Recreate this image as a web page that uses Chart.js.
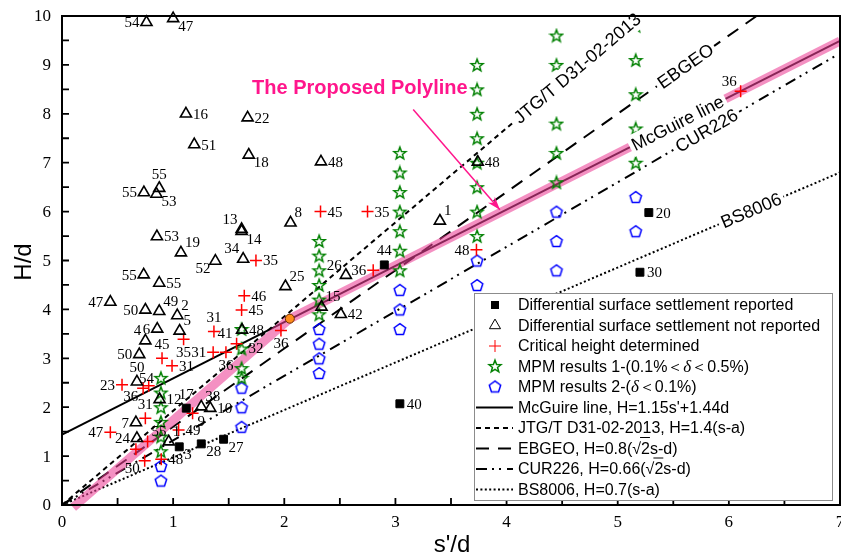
<!DOCTYPE html>
<html><head><meta charset="utf-8">
<script src="https://cdn.jsdelivr.net/npm/chart.js@4.4.1/dist/chart.umd.min.js"></script>
<style>html,body{margin:0;padding:0;background:#fff}canvas{display:block}</style>
</head><body>
<canvas id="c" width="841" height="555"></canvas>
<script>
// ---------- tick labels ----------
const xTicks=[0,1,2,3,4,5,6,7];
const yTicks=[0,1,2,3,4,5,6,7,8,9,10];

// ---------- Differential surface settlement reported (squares) ----------
const repX=[2.90,5.28,5.20,3.04,1.118,1.055,1.253,1.454];
const repY=[4.91,5.98,4.76,2.07,1.98,1.19,1.25,1.345];
const repL=['44','20','30','40','17','3','28','27'];
const repP=['t','r','r','r','t','br','br','br'];

// ---------- Differential surface settlement not reported (triangles) ----------
const triX=[0.76,1.00,1.115,1.67,1.19,1.68,2.33,0.875,0.737,0.85,0.854,1.616,1.616,2.056,1.07,1.38,1.63,2.01,0.875,0.735,0.435,0.75,0.875,1.037,0.857,1.058,0.75,0.695,0.674,0.878,1.253,1.334,0.665,0.674,0.96,2.554,3.40,3.741,2.509,2.335,1.62];
const triY=[9.87,9.95,8.00,7.92,7.37,7.16,7.02,6.48,6.39,6.36,5.49,5.64,5.60,5.77,5.16,4.99,5.03,4.47,4.54,4.71,4.15,3.99,3.96,3.875,3.60,3.56,3.36,3.08,2.52,2.16,2.01,1.98,1.685,1.365,1.296,4.70,5.81,7.015,3.90,4.05,3.58];
const triL=['54','47','16','22','51','18','48','55','55','53','53','13','14','8','19','52','34','25','55','55','47','50','49','2','6','5','4','50','50','12','38','10','7','24','1','26','1','48','42','15','48'];
const triP=['l','br','r','r','r','br','r','t','l','br','r','tl','br','tr','tr','bl','tl','tr','r','l','l','l','tr','tr','l','tr','tl','l','t','r','tr','r','l','l','tr','tl','tr','r','r','tr','r'];

// ---------- Critical height determined (crosses) ----------
const crX=[2.326,2.749,2.80,3.729,6.106,1.745,1.64,1.616,1.367,1.97,1.571,1.36,1.475,1.094,0.90,0.99,0.54,0.73,0.78,0.75,0.435,1.049,1.175,0.665,0.744,0.893,0.77];
const crY=[6.00,6.00,4.80,5.22,8.46,5.00,4.28,3.99,3.55,3.57,3.30,3.125,3.125,3.39,3.00,2.85,2.46,2.39,2.44,1.775,1.49,1.535,1.877,1.14,0.907,0.935,1.30];
const crL=['45','35','36','48','36','35','46','45','31','36','41','31','36','35','45','31','23','36','','31','47','49','9','','50','48','55'];
const crP=['r','r','l','l','tl','r','r','r','t','b','tl','l','b','b','t','r','l','bl','','t','l','r','br','','bl','r','tr'];

// ---------- MPM results 1 (stars) ----------
const stX=[0.89,0.89,0.89,0.89,0.89,0.89, 1.616,1.616,1.616,1.616, 2.314,2.314,2.314,2.314,2.314,2.314, 3.04,3.04,3.04,3.04,3.04,3.04,3.04, 3.735,3.735,3.735,3.735,3.735,3.735,3.735,3.735, 4.449,4.449,4.449,4.449,4.449, 5.162,5.162,5.162,5.162,5.162];
const stY=[2.6,2.3,2.0,1.7,1.4,1.1, 3.6,3.2,2.8,2.6, 5.4,5.1,4.8,4.5,4.2,3.9, 7.2,6.8,6.4,6.0,5.6,5.2,4.8, 9.0,8.5,8.0,7.5,7.0,6.5,6.0,5.5, 9.6,9.0,7.8,7.2,6.6, 9.8,9.1,8.4,7.7,7.0];
const stL=['54','','','','','', '','32','','', '','','','','','', '','','','','','','', '','','','','','','','', '','','','','', '','','','',''];
const stP=['l','','','','','', '','r','','', '','','','','','', '','','','','','','', '','','','','','','','', '','','','','', '','','','',''];

// ---------- MPM results 2 (pentagons) ----------
const peX=[0.89,0.89, 1.616,1.616,1.616, 2.314,2.314,2.314,2.314, 3.04,3.04,3.04, 3.735,3.735, 4.449,4.449,4.449, 5.162,5.162];
const peY=[0.8,0.5, 2.4,2.0,1.6, 3.6,3.3,3.0,2.7, 4.4,4.0,3.6, 5.0,4.5, 6.0,5.4,4.8, 6.3,5.6];

// ---------- polyline break point ----------
const brkX=[2.05], brkY=[3.81];

// ---------- design lines ----------
const mcgX=[0,7],     mcgY=[1.44,9.49];
const jtgX=[0,5.19],  jtgY=[0,10];
const ebgX=[0,6.25],  ebgY=[0,10];
const curX=[0,7],     curY=[0,9.24];
const bsX=[0,7],      bsY=[0,6.8];
const polyX=[0.1,2.05,7], polyY=[-0.05,3.81,9.49];

// line label annotations
const lineLabelText=['JTG/T D31-02-2013','EBGEO','McGuire line','CUR226','BS8006'];
const lineLabelAt=[4.636,5.61,5.54,5.80,6.20];

const legendText=['Differential surface settlement reported','Differential surface settlement not reported','Critical height determined','MPM results 1-(0.1%＜δ＜0.5%)','MPM results 2-(δ＜0.1%)','McGuire line, H=1.15s\'+1.44d','JTG/T D31-02-2013, H=1.4(s-a)','EBGEO, H=0.8(√2s-d)','CUR226, H=0.66(√2s-d)','BS8006, H=0.7(s-a)'];

const PINK='#ff168c';
const SANS='"Liberation Sans", Arial, sans-serif';
const SERIF='"Liberation Serif", "Times New Roman", serif';

function pts(xs,ys){return xs.map((x,i)=>({x:x,y:ys[i]}));}
function makeStar(){
  const c=document.createElement('canvas');c.width=c.height=16;const g=c.getContext('2d');
  g.strokeStyle='#008000';g.lineWidth=1.5;g.lineJoin='miter';g.beginPath();
  for(let i=0;i<10;i++){const r=i%2?2.7:6.4;const a=-Math.PI/2+i*Math.PI/5;g.lineTo(8+r*Math.cos(a),8.6+r*Math.sin(a));}
  g.closePath();g.stroke();return c;
}
function makePent(){
  const c=document.createElement('canvas');c.width=c.height=16;const g=c.getContext('2d');
  g.strokeStyle='#0000ff';g.lineWidth=1.5;g.beginPath();
  for(let i=0;i<5;i++){const a=-Math.PI/2+i*2*Math.PI/5;g.lineTo(8+6*Math.cos(a),8.6+6*Math.sin(a));}
  g.closePath();g.stroke();return c;
}
const starImg=makeStar(), pentImg=makePent();

function lineDS(xs,ys,dash,w,order,color){
  return {data:pts(xs,ys),showLine:true,pointRadius:0,borderColor:color||'#000',borderWidth:w,borderDash:dash,order:order,clip:false,fill:false,tension:0};
}

const datasets=[
  {data:pts(repX,repY),pointStyle:'rect',pointRadius:5.6,backgroundColor:'#000',borderColor:'#000',borderWidth:1,order:1,clip:false,lbl:repL,pos:repP},
  {data:pts(triX,triY),pointStyle:'triangle',pointRadius:6.4,backgroundColor:'rgba(0,0,0,0)',borderColor:'#000',borderWidth:1.6,order:2,clip:false,lbl:triL,pos:triP},
  {data:pts(crX,crY),pointStyle:'cross',pointRadius:6,borderColor:'#ff0000',borderWidth:1.5,order:2,clip:false,lbl:crL,pos:crP},
  {data:pts(stX,stY),pointStyle:starImg,pointRadius:6,order:2,clip:false,lbl:stL,pos:stP},
  {data:pts(peX,peY),pointStyle:pentImg,pointRadius:6,order:2,clip:false},
  {data:pts(brkX,brkY),pointStyle:'circle',pointRadius:4.5,backgroundColor:'#ff8c1a',borderColor:'#6b3000',borderWidth:1,order:0,clip:false},
  Object.assign(lineDS(polyX,polyY,[],9,5,'rgba(236,64,150,0.58)'),{borderJoinStyle:'round'}),
  lineDS(mcgX,mcgY,[],2,6),
  lineDS(jtgX,jtgY,[5,4],2,7),
  lineDS(ebgX,ebgY,[13,9],2,7),
  lineDS(curX,curY,[11,5,2,5,2,6],2,7),
  lineDS(bsX,bsY,[2,2.4],2,7)
];

function drawRich(g,x,y,parts){
  for(const p of parts){
    g.font=p.f;
    if(p.over){ const w=g.measureText(p.t).width; g.save();g.lineWidth=1;g.beginPath();g.moveTo(x-1,y-12);g.lineTo(x+w,y-12);g.stroke();g.restore(); }
    g.fillText(p.t,x,y); x+=g.measureText(p.t).width;
  }
}

const custom={
  id:'custom',
  afterDatasetsDraw(chart){
    const g=chart.ctx, xs=chart.scales.x, ys=chart.scales.y;
    // point labels
    g.save();g.fillStyle='#000';g.font='15px '+SERIF;
    chart.data.datasets.forEach((ds,di)=>{
      if(!ds.lbl)return;
      const meta=chart.getDatasetMeta(di);
      ds.lbl.forEach((t,i)=>{
        if(!t)return;const el=meta.data[i];const x=el.x,y=el.y;const p=ds.pos[i];
        let ax,ay,al,bl;
        switch(p){
          case 'r':ax=x+7;ay=y+1;al='left';bl='middle';break;
          case 'l':ax=x-7;ay=y+1;al='right';bl='middle';break;
          case 't':ax=x;ay=y-6;al='center';bl='bottom';break;
          case 'b':ax=x;ay=y+6;al='center';bl='top';break;
          case 'tr':ax=x+4;ay=y-2;al='left';bl='bottom';break;
          case 'tl':ax=x-4;ay=y-2;al='right';bl='bottom';break;
          case 'br':ax=x+5;ay=y+1;al='left';bl='top';break;
          default:ax=x-5;ay=y+1;al='right';bl='top';
        }
        g.textAlign=al;g.textBaseline=bl;g.fillText(t,ax,ay);
      });
    });
    g.restore();
    // line labels
    const defs=[[jtgX,jtgY],[ebgX,ebgY],[mcgX,mcgY],[curX,curY],[bsX,bsY]];
    g.save();g.font='18px '+SANS;g.textAlign='center';g.textBaseline='middle';
    lineLabelText.forEach((t,i)=>{
      const d=defs[i];
      const x1=xs.getPixelForValue(d[0][0]),y1=ys.getPixelForValue(d[1][0]);
      const x2=xs.getPixelForValue(d[0][1]),y2=ys.getPixelForValue(d[1][1]);
      const vx=lineLabelAt[i];const f=(vx-d[0][0])/(d[0][1]-d[0][0]);
      const vy=d[1][0]+f*(d[1][1]-d[1][0]);
      const px=xs.getPixelForValue(vx),py=ys.getPixelForValue(vy);
      const ang=Math.atan2(y2-y1,x2-x1);
      g.save();g.translate(px,py);g.rotate(ang);
      const w=g.measureText(t).width;
      g.fillStyle='#fff';g.fillRect(-w/2-3,-11,w+6,22);
      g.fillStyle='#000';g.fillText(t,0,1);
      g.restore();
    });
    g.restore();
    // title annotation and arrow
    g.save();
    g.fillStyle=PINK;g.font='bold 20px '+SANS;g.textAlign='center';g.textBaseline='middle';
    g.fillText('The Proposed Polyline',xs.getPixelForValue(2.68),ys.getPixelForValue(8.52));
    const ax1=xs.getPixelForValue(3.16),ay1=ys.getPixelForValue(8.09);
    const ax2=xs.getPixelForValue(3.94),ay2=ys.getPixelForValue(6.04);
    g.strokeStyle=PINK;g.lineWidth=1.5;g.beginPath();g.moveTo(ax1,ay1);g.lineTo(ax2,ay2);g.stroke();
    const a=Math.atan2(ay2-ay1,ax2-ax1);
    g.beginPath();g.moveTo(ax2,ay2);
    g.lineTo(ax2-13*Math.cos(a)+4.5*Math.sin(a),ay2-13*Math.sin(a)-4.5*Math.cos(a));
    g.lineTo(ax2-9*Math.cos(a),ay2-9*Math.sin(a));
    g.lineTo(ax2-13*Math.cos(a)-4.5*Math.sin(a),ay2-13*Math.sin(a)+4.5*Math.cos(a));
    g.closePath();g.fill();
    g.restore();
  },
  afterDraw(chart){
    const g=chart.ctx, xs=chart.scales.x, ys=chart.scales.y, ca=chart.chartArea;
    g.save();
    // frame
    g.strokeStyle='#000';g.lineWidth=2;g.setLineDash([]);
    g.strokeRect(ca.left,ca.top,ca.right-ca.left,ca.bottom-ca.top);
    // ticks (inward) every 0.5
    g.lineWidth=1.8;g.beginPath();
    for(let v=0;v<=7.001;v+=0.5){const p=xs.getPixelForValue(v);g.moveTo(p,ca.bottom);g.lineTo(p,ca.bottom-7);}
    for(let v=0;v<=10.001;v+=0.5){const p=ys.getPixelForValue(v);g.moveTo(ca.left,p);g.lineTo(ca.left+7,p);}
    g.stroke();
    // tick labels
    g.fillStyle='#000';g.font='17px '+SERIF;
    g.textAlign='center';g.textBaseline='middle';
    xTicks.forEach(v=>g.fillText(String(v),xs.getPixelForValue(v),ca.bottom+18));
    g.textAlign='right';
    yTicks.forEach(v=>g.fillText(String(v),ca.left-11,ys.getPixelForValue(v)+1));
    // axis titles
    g.font='24px '+SANS;g.textAlign='center';g.textBaseline='alphabetic';
    g.fillText("s'/d",(ca.left+ca.right)/2+1,552);
    g.save();g.translate(31,262);g.rotate(-Math.PI/2);g.fillText('H/d',0,0);g.restore();
    // legend
    const L=474,T=293,R=832,B=500;
    g.fillStyle='#fff';g.fillRect(L,T,R-L,B-T);
    g.strokeStyle='#8c8c8c';g.lineWidth=1;g.strokeRect(L+0.5,T+0.5,R-L,B-T);
    const mx=495,tx=518;
    const rows=legendText.length;
    for(let i=0;i<rows;i++){
      const cy=305+i*20.5;
      g.save();
      if(i===0){g.fillStyle='#000';g.fillRect(mx-4,cy-4,8,8);}
      else if(i===1){g.strokeStyle='#000';g.fillStyle='rgba(0,0,0,0)';Chart.helpers.drawPoint(g,{pointStyle:'triangle',radius:6.4,borderWidth:1.6},mx,cy);}
      else if(i===2){g.strokeStyle='#ff0000';Chart.helpers.drawPoint(g,{pointStyle:'cross',radius:6,borderWidth:1.5},mx,cy);}
      else if(i===3){g.drawImage(starImg,mx-8,cy-8.6);}
      else if(i===4){g.drawImage(pentImg,mx-8,cy-8.6);}
      else {
        const dashes=[[],[5,4],[13,9],[11,5,2,5,2,6],[2,2.4]];
        g.strokeStyle='#000';g.lineWidth=2;g.setLineDash(dashes[i-5]);
        g.beginPath();g.moveTo(476,cy);g.lineTo(513,cy);g.stroke();
      }
      g.restore();
      g.fillStyle='#000';g.strokeStyle='#000';g.textAlign='left';g.textBaseline='middle';
      const f='16px '+SANS, fi='italic 17px '+SERIF;
      const y=cy+1;
      if(i===3){drawRich(g,tx,y,[{t:'MPM results 1-(0.1%＜',f:f},{t:'δ',f:fi},{t:'＜0.5%)',f:f}]);}
      else if(i===4){drawRich(g,tx,y,[{t:'MPM results 2-(',f:f},{t:'δ',f:fi},{t:'＜0.1%)',f:f}]);}
      else if(i===7){drawRich(g,tx,y,[{t:'EBGEO, H=0.8(',f:f},{t:'√',f:f},{t:'2',f:f,over:true},{t:'s-d)',f:f}]);}
      else if(i===8){drawRich(g,tx,y,[{t:'CUR226, H=0.66(',f:f},{t:'√',f:f},{t:'2',f:f,over:true},{t:'s-d)',f:f}]);}
      else {g.font=f;g.fillText(legendText[i],tx,y);}
    }
    g.restore();
  }
};

new Chart(document.getElementById('c'),{
  type:'scatter',
  data:{datasets:datasets},
  options:{
    responsive:false,animation:false,devicePixelRatio:1,events:[],
    layout:{autoPadding:false,padding:{left:0,right:1,top:16,bottom:0}},
    plugins:{legend:{display:false},tooltip:{enabled:false}},
    scales:{
      x:{type:'linear',min:0,max:7,ticks:{display:false,stepSize:0.5},grid:{display:false,drawTicks:false},border:{display:false},
         afterFit:s=>{s.height=50;}},
      y:{type:'linear',min:0,max:10,ticks:{display:false,stepSize:0.5},grid:{display:false,drawTicks:false},border:{display:false},
         afterFit:s=>{s.width=62;}}
    }
  },
  plugins:[custom]
});
</script>
</body></html>
